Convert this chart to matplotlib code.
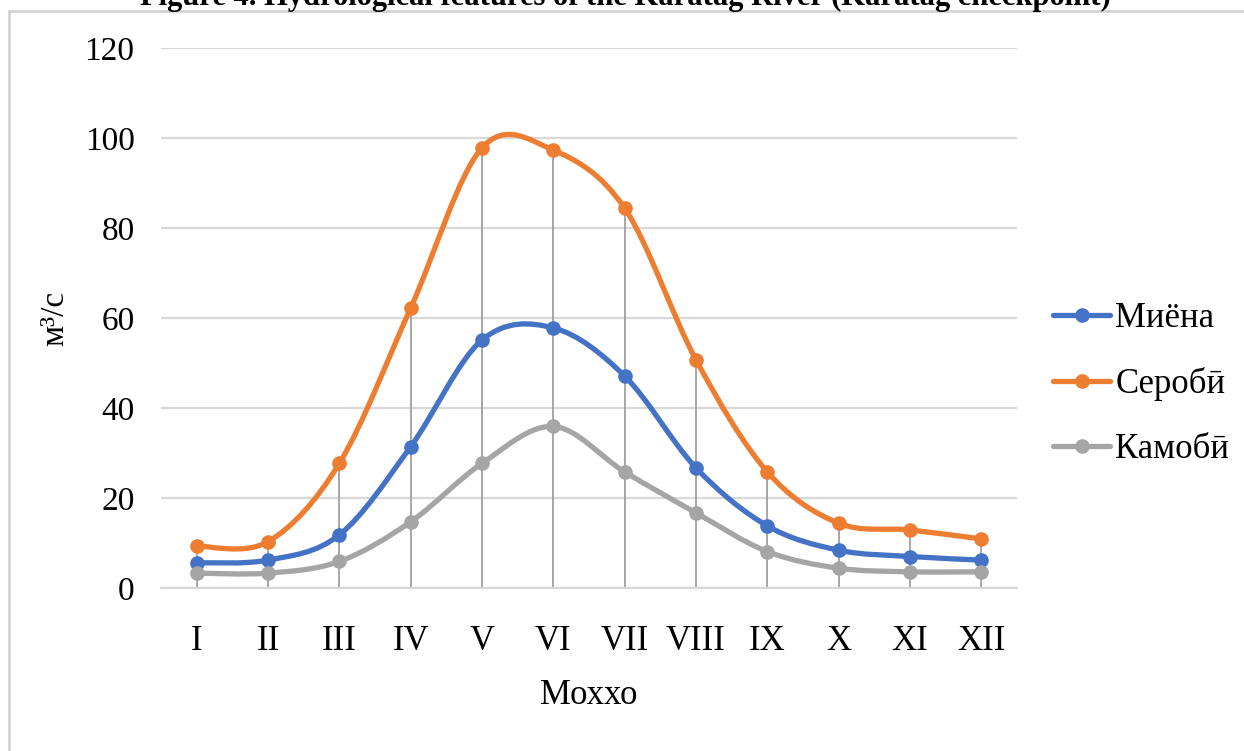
import matplotlib
matplotlib.use('Agg')
import matplotlib.pyplot as plt
from matplotlib.path import Path
from matplotlib.patches import PathPatch
from matplotlib.lines import Line2D

plt.rcParams['font.family'] = ['Liberation Serif', 'DejaVu Serif']

# данные (м3/с) по месяцам
months = ['I', 'II', 'III', 'IV', 'V', 'VI', 'VII', 'VIII', 'IX', 'X', 'XI', 'XII']
mieana = [5.6, 6.2, 11.8, 31.4, 55.1, 57.8, 47.1, 26.7, 13.8, 8.4, 7.0, 6.2]
serobi = [9.3, 10.3, 27.7, 62.2, 97.8, 97.3, 84.4, 50.7, 25.8, 14.4, 12.9, 10.9]
kamobi = [3.3, 3.3, 5.9, 14.7, 27.7, 35.9, 25.8, 16.7, 8.1, 4.4, 3.6, 3.6]

series_names = ['Миёна', 'Серобӣ', 'Камобӣ']
colors = ['#4472C4', '#ED7D31', '#A5A5A5']


def smooth_path(xs, ys):
    # сглаживание как в Excel (кривые Безье по соседним точкам)
    n = len(xs)
    verts = [(xs[0], ys[0])]
    codes = [Path.MOVETO]
    for i in range(n - 1):
        a = i - 1 if i > 0 else i
        b = i + 2 if i + 2 < n else i + 1
        c1 = (xs[i] + (xs[i + 1] - xs[a]) / 6, ys[i] + (ys[i + 1] - ys[a]) / 6)
        c2 = (xs[i + 1] - (xs[b] - xs[i]) / 6, ys[i + 1] - (ys[b] - ys[i]) / 6)
        verts += [c1, c2, (xs[i + 1], ys[i + 1])]
        codes += [Path.CURVE4] * 3
    return Path(verts, codes)


W, H = 1244, 751
fig = plt.figure(figsize=(W / 100, H / 100), dpi=100)
ax = fig.add_axes([161 / W, 1 - 588 / H, 856 / W, 540 / H])

x = list(range(len(months)))

# сетка
ax.set_ylim(0, 120)
ax.set_xlim(-0.5, len(months) - 0.5)
ax.set_yticks(range(0, 121, 20))
ax.yaxis.grid(True, color='#d9d9d9', lw=1.6)
ax.set_axisbelow(True)
for s in ['top', 'right', 'left']:
    ax.spines[s].set_visible(False)
ax.spines['bottom'].set_color('#d9d9d9')
ax.spines['bottom'].set_linewidth(1.6)

# линии проекции
tops = [max(v) for v in zip(mieana, serobi, kamobi)]
ax.vlines(x, 0, tops, color='#a0a0a0', lw=1.3, zorder=2)

handles = []
for vals, name, c in zip([mieana, serobi, kamobi], series_names, colors):
    ax.add_patch(PathPatch(smooth_path(x, vals), fill=False, edgecolor=c,
                           lw=3.8, capstyle='round', joinstyle='round', zorder=3))
    ax.plot(x, vals, linestyle='none', marker='o', ms=9.5, color=c, zorder=4)
    handles.append(Line2D([], [], color=c, lw=3.8, marker='o', ms=9.5,
                          solid_capstyle='round'))

ax.set_xticks(x)
ax.set_xticklabels(months, fontsize=25)
ax.tick_params(axis='x', length=0, pad=27)
ax.tick_params(axis='y', length=0, pad=19, labelsize=24)

ax.set_xlabel('Моххо', fontsize=25, labelpad=15)
ax.set_ylabel('м³/с', fontsize=24, labelpad=10)

fig.legend(handles, series_names, loc='center left',
           bbox_to_anchor=(1053 / W, 1 - 384 / H), frameon=False,
           fontsize=25, handlelength=1.65, handletextpad=0.15,
           labelspacing=0.92, borderpad=0, borderaxespad=0)

# рамка и подпись рисунка
fig.add_artist(Line2D([9 / W, 1], [1 - 11 / H, 1 - 11 / H],
                      transform=fig.transFigure, color='#d0d0d0', lw=1.8))
fig.add_artist(Line2D([9 / W, 9 / W], [0, 1 - 11 / H],
                      transform=fig.transFigure, color='#d0d0d0', lw=1.8))
fig.text(625 / W, 1 - 5 / H,
         'Figure 4. Hydrological features of the Karatag River (Karatag checkpoint)',
         ha='center', va='baseline', fontsize=22, fontweight='bold')

fig.savefig('out.png', dpi=100)
